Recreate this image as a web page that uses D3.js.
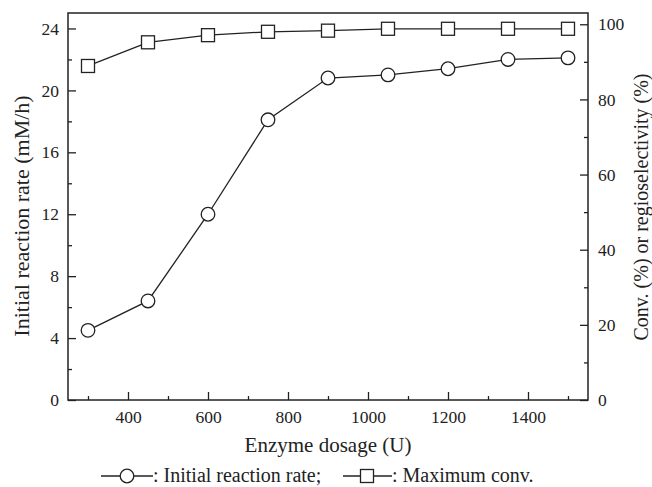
<!DOCTYPE html>
<html>
<head>
<meta charset="utf-8">
<script src="https://cdn.jsdelivr.net/npm/d3@7"></script>
<style>
	body { margin: 0; background: #fff; }
	text { font-family: "Liberation Serif", "Times New Roman", serif; fill: #222; }
</style>
</head>
<body>
<div id="chart"></div>
<script>
// enzyme dosage (U)
const dosage = [300, 450, 600, 750, 900, 1050, 1200, 1350, 1500];
// initial reaction rate (mM/h), left axis
const rate = [4.5, 6.4, 12.0, 18.1, 20.8, 21.0, 21.4, 22.0, 22.1];
// maximum conversion (%), right axis
const conv = [88.9, 95.2, 97.1, 98.0, 98.3, 98.8, 98.8, 98.8, 98.8];

const xTicks = [400, 600, 800, 1000, 1200, 1400];
const xMinor = [300, 500, 700, 900, 1100, 1300, 1500];
const yLeftTicks = [0, 4, 8, 12, 16, 20, 24];
const yLeftMinor = [2, 6, 10, 14, 18, 22];
const yRightTicks = [0, 20, 40, 60, 80, 100];
const yRightMinor = [10, 30, 50, 70, 90];

const width = 652, height = 487;
const margin = {top: 13, right: 64, bottom: 87, left: 68};
const ink = "#222";

const svg = d3.select("#chart")
	.append("svg")
	.attr("width", width)
	.attr("height", height);

const x = d3.scaleLinear().domain([250, 1550]).range([margin.left, width - margin.right]);
const yL = d3.scaleLinear().domain([0, 25]).range([height - margin.bottom, margin.top]);
const yR = d3.scaleLinear().domain([0, 103]).range([height - margin.bottom, margin.top]);

const bottom = height - margin.bottom;
const right = width - margin.right;

function styleAxis(g) {
	g.select(".domain").remove();
	g.selectAll(".tick line").attr("stroke", ink).attr("stroke-width", 1.3);
	g.selectAll(".tick text").attr("font-size", 17.5).attr("font-family", "Liberation Serif, serif").attr("fill", ink);
}

// x axis, ticks inward
svg.append("g")
	.attr("transform", `translate(0,${bottom})`)
	.call(d3.axisBottom(x).tickValues(xTicks).tickSize(-8).tickPadding(11).tickFormat(d3.format("d")))
	.call(styleAxis);
svg.append("g")
	.attr("transform", `translate(0,${bottom})`)
	.call(d3.axisBottom(x).tickValues(xMinor).tickSize(-4).tickFormat(""))
	.call(styleAxis);

// left axis
svg.append("g")
	.attr("transform", `translate(${margin.left},0)`)
	.call(d3.axisLeft(yL).tickValues(yLeftTicks).tickSize(-8).tickPadding(9))
	.call(styleAxis);
svg.append("g")
	.attr("transform", `translate(${margin.left},0)`)
	.call(d3.axisLeft(yL).tickValues(yLeftMinor).tickSize(-4).tickFormat(""))
	.call(styleAxis);

// right axis
svg.append("g")
	.attr("transform", `translate(${right},0)`)
	.call(d3.axisRight(yR).tickValues(yRightTicks).tickSize(-8).tickPadding(10))
	.call(styleAxis);
svg.append("g")
	.attr("transform", `translate(${right},0)`)
	.call(d3.axisRight(yR).tickValues(yRightMinor).tickSize(-4).tickFormat(""))
	.call(styleAxis);

// frame
svg.append("rect")
	.attr("x", margin.left).attr("y", margin.top)
	.attr("width", right - margin.left).attr("height", bottom - margin.top)
	.attr("fill", "none").attr("stroke", ink).attr("stroke-width", 1.5);

// lines
const lineRate = d3.line().x((d, i) => x(dosage[i])).y(d => yL(d));
const lineConv = d3.line().x((d, i) => x(dosage[i])).y(d => yR(d));

svg.append("path").datum(rate).attr("d", lineRate)
	.attr("fill", "none").attr("stroke", ink).attr("stroke-width", 1.3);
svg.append("path").datum(conv).attr("d", lineConv)
	.attr("fill", "none").attr("stroke", ink).attr("stroke-width", 1.3);

// markers
svg.append("g").selectAll("circle")
	.data(rate).enter()
	.append("circle")
	.attr("cx", (d, i) => x(dosage[i]))
	.attr("cy", d => yL(d))
	.attr("r", 6.8)
	.attr("fill", "#fff").attr("stroke", ink).attr("stroke-width", 1.3);

const sq = 13;
svg.append("g").selectAll("rect")
	.data(conv).enter()
	.append("rect")
	.attr("x", (d, i) => x(dosage[i]) - sq / 2)
	.attr("y", d => yR(d) - sq / 2)
	.attr("width", sq).attr("height", sq)
	.attr("fill", "#fff").attr("stroke", ink).attr("stroke-width", 1.3);

// axis titles
svg.append("text")
	.attr("x", (margin.left + right) / 2).attr("y", 452)
	.attr("text-anchor", "middle").attr("font-size", 21)
	.text("Enzyme dosage (U)");

svg.append("text")
	.attr("transform", `translate(29,216) rotate(-90)`)
	.attr("text-anchor", "middle").attr("font-size", 22)
	.text("Initial reaction rate (mM/h)");

svg.append("text")
	.attr("transform", `translate(648,207) rotate(-90)`)
	.attr("text-anchor", "middle").attr("font-size", 20)
	.text("Conv. (%) or regioselectivity (%)");

// legend
const ly = 482;
const leg = svg.append("g");
leg.append("line").attr("x1", 101).attr("x2", 153).attr("y1", ly - 6).attr("y2", ly - 6)
	.attr("stroke", ink).attr("stroke-width", 1.3);
leg.append("circle").attr("cx", 127).attr("cy", ly - 6).attr("r", 6.8)
	.attr("fill", "#fff").attr("stroke", ink).attr("stroke-width", 1.3);
leg.append("text").attr("x", 153).attr("y", ly).attr("font-size", 20)
	.text(": Initial reaction rate;");

leg.append("line").attr("x1", 343).attr("x2", 392).attr("y1", ly - 6).attr("y2", ly - 6)
	.attr("stroke", ink).attr("stroke-width", 1.3);
leg.append("rect").attr("x", 367 - sq / 2).attr("y", ly - 6 - sq / 2).attr("width", sq).attr("height", sq)
	.attr("fill", "#fff").attr("stroke", ink).attr("stroke-width", 1.3);
leg.append("text").attr("x", 392).attr("y", ly).attr("font-size", 20)
	.text(": Maximum conv.");
</script>
</body>
</html>
